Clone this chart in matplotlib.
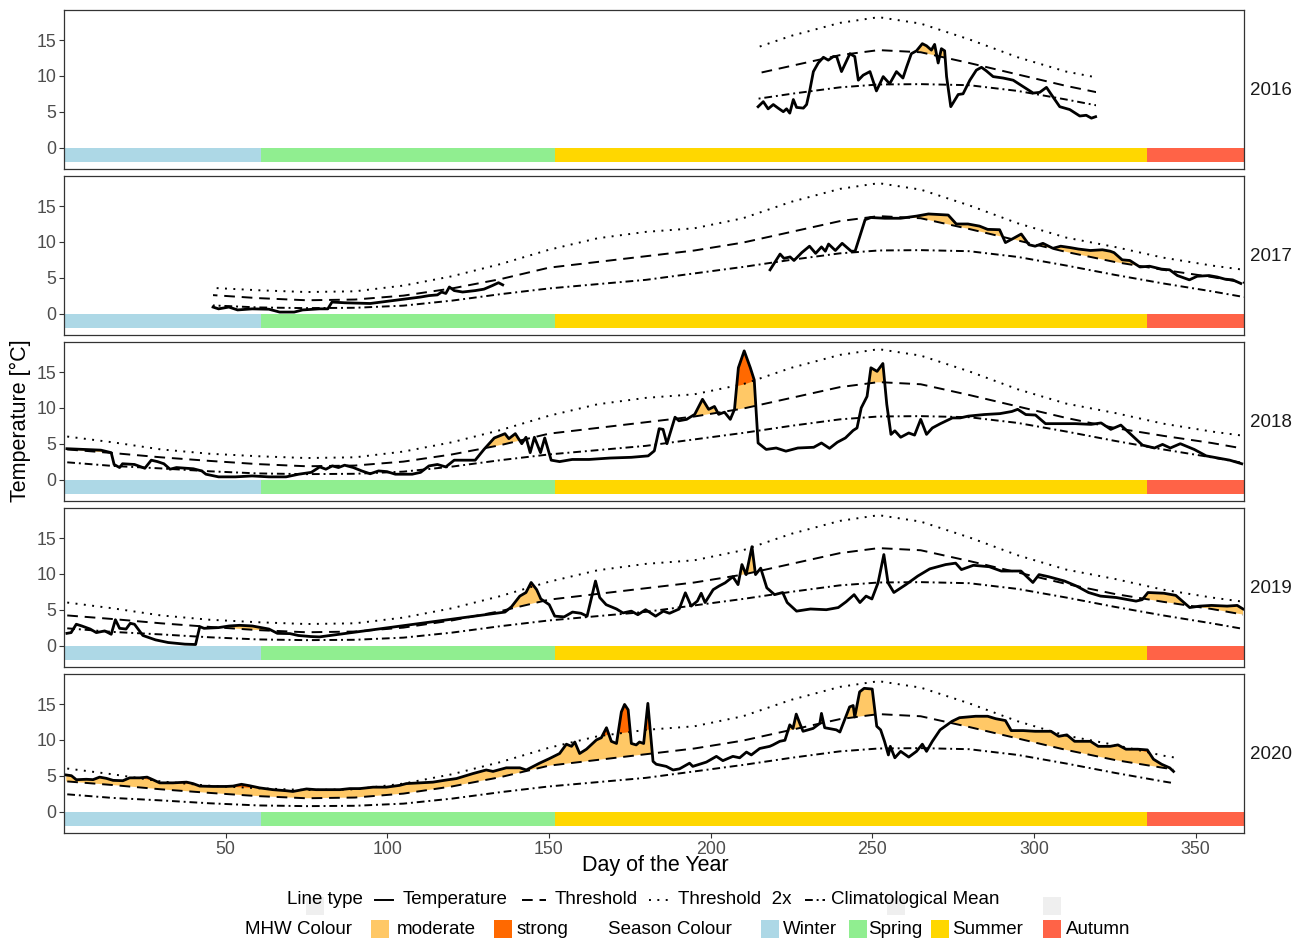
import numpy as np
import matplotlib

matplotlib.use("Agg")
import matplotlib.pyplot as plt
from matplotlib.lines import Line2D
from matplotlib.patches import Rectangle

plt.rcParams["font.family"] = ["Liberation Sans", "DejaVu Sans"]

# %% Climatology (same seasonal curves every year)

clim_days = [1, 15, 30, 45, 60, 75, 90, 105, 120, 135, 150, 165, 180, 195,
             210, 225, 240, 252, 265, 280, 295, 310, 325, 340, 355, 365]
clim_mean = [2.4, 1.9, 1.55, 1.15, 0.85, 0.75, 0.8, 1.1, 1.8, 2.7, 3.5, 4.1, 4.7, 5.6,
             6.5, 7.5, 8.4, 8.8, 8.85, 8.7, 7.9, 6.7, 5.4, 4.2, 3.1, 2.3]
threshold = [4.2, 3.7, 3.1, 2.6, 2.15, 1.85, 1.95, 2.5, 3.5, 4.8, 6.4, 7.2, 8.0, 8.8,
             9.9, 11.4, 12.9, 13.6, 13.3, 11.8, 10.2, 8.6, 7.2, 6.1, 5.1, 4.3]
threshold_2x = [6.0, 5.2, 4.2, 3.6, 3.25, 3.0, 3.1, 3.9, 5.2, 6.9, 8.9, 10.5, 11.4, 11.9,
                13.3, 15.6, 17.4, 18.2, 17.3, 15.1, 12.6, 10.6, 9.3, 7.8, 6.7, 6.1]

# %% Temperature per year

days_2016 = [214.7, 216.3, 217.8, 219.4, 220.9, 222.5, 223.5, 224.5, 225.6, 226.6, 228.7,
             229.7, 230.7, 231.8, 233.3, 234.9, 236.4, 238.0, 239.0, 240.5, 243.1, 244.6,
             245.7, 247.2, 249.3, 251.3, 253.4, 255.4, 257.5, 259.5, 260.6, 262.1, 263.7,
             265.5, 266.8, 268.3, 269.3, 270.4, 271.4, 272.4, 273.0, 274.3, 276.6, 278.1,
             280.2, 282.2, 283.8, 285.3, 287.4, 290.5, 293.6, 296.7, 299.8, 301.8, 303.9,
             305.4, 308.0, 311.1, 314.2, 316.2, 317.8, 319.1]
temp_2016 = [5.7, 6.4, 5.4, 6.0, 5.5, 5.0, 5.4, 4.8, 6.7, 5.6, 5.5,
             6.0, 8.0, 10.6, 11.8, 12.6, 12.2, 12.7, 12.7, 10.6, 13.1, 12.7,
             9.4, 10.1, 10.6, 7.9, 9.9, 8.9, 10.6, 9.7, 11.2, 13.1, 13.5,
             14.5, 14.2, 13.6, 14.4, 11.8, 13.8, 13.5, 9.9, 5.7, 7.4, 7.5,
             9.4, 10.8, 11.2, 10.7, 9.9, 9.7, 9.4, 8.5, 7.6, 7.7, 8.4,
             7.4, 5.7, 5.3, 4.4, 4.5, 4.1, 4.3]

days_2017 = [46.1, 47.8, 51.0, 53.7, 58.2, 63.4, 66.7, 71.2, 73.8, 79.0, 81.6, 82.9,
             86.8, 94.7, 102.5, 110.3, 112.9, 115.5, 116.8, 118.1, 119.2, 120.7, 123.3,
             127.2, 129.9, 132.5, 134.4, 135.7, np.nan,
             218.4, 221.5, 222.7, 224.6, 225.8, 228.2, 230.6, 232.5, 234.3, 235.5, 236.5,
             238.6, 240.7, 243.5, 244.7, 247.8, 249.6, 253.9, 258.8, 263.7, 267.4, 273.5,
             276.0, 279.6, 283.2, 285.7, 289.4, 291.2, 293.7, 296.1, 298.5, 300.4, 302.8,
             305.9, 308.3, 311.3, 313.8, 317.5, 321.2, 323.6, 324.8, 327.3, 329.7, 332.8,
             335.8, 339.5, 342.0, 344.4, 348.1, 350.5, 354.2, 356.7, 359.1, 361.5, 364.0]
temp_2017 = [0.9, 0.65, 0.9, 0.5, 0.65, 0.6, 0.2, 0.2, 0.5, 0.65, 0.65, 1.6,
             1.5, 1.4, 1.85, 2.3, 2.5, 2.6, 3.0, 2.8, 3.7, 3.2, 3.0,
             3.2, 3.4, 3.9, 4.3, 4.0, np.nan,
             6.1, 8.3, 7.7, 7.9, 7.4, 8.5, 9.4, 8.4, 9.3, 8.7, 9.7,
             8.8, 9.8, 8.7, 8.7, 13.1, 13.4, 13.3, 13.3, 13.6, 13.9, 13.75,
             12.5, 12.5, 12.2, 11.75, 11.7, 9.9, 10.5, 11.1, 9.6, 9.4, 9.8,
             9.1, 9.4, 9.2, 9.0, 8.8, 8.9, 8.7, 8.5, 7.5, 7.4, 6.5,
             6.6, 6.2, 6.1, 5.3, 4.7, 5.2, 5.3, 5.1, 4.8, 4.7, 4.2]

days_2018 = [0.9, 6.2, 11.4, 14.6, 15.5, 17.2, 18.1, 21.8, 25.0, 27.0, 28.9, 30.9, 32.8,
             34.8, 40.0, 42.6, 43.9, 47.8, 53.0, 58.2, 63.4, 68.7, 72.6, 76.5, 79.1, 81.0,
             83.0, 84.9, 86.8, 89.5, 92.1, 94.7, 97.3, 99.9, 102.5, 107.7, 110.3, 112.9,
             115.5, 118.1, 120.7, 123.3, 127.2, 129.9, 133.1, 136.4, 137.6, 139.6, 141.6,
             142.9, 144.2, 145.5, 147.4, 148.7, 150.7, 153.3, 157.2, 162.4, 168.9, 175.5,
             180.7, 182.6, 184.1, 185.3, 186.5, 189.0, 190.2, 192.6, 195.1, 197.5, 199.4,
             201.2, 202.5, 204.3, 206.1, 207.4, 208.6, 210.4, 212.3, 213.5, 214.7, 217.2,
             220.3, 223.3, 227.0, 231.9, 234.3, 236.8, 239.2, 241.7, 244.1, 245.3, 246.6,
             248.4, 249.6, 251.5, 253.3, 254.5, 255.8, 257.0, 258.8, 261.3, 263.1, 265.0,
             266.8, 268.6, 271.1, 274.8, 277.2, 279.7, 284.6, 289.5, 293.2, 295.0, 297.5,
             300.5, 303.6, 307.9, 312.8, 317.7, 320.8, 323.8, 326.9, 330.0, 333.6, 337.3,
             339.8, 342.2, 345.3, 349.6, 353.3, 357.0, 360.6, 364.3]
temp_2018 = [4.3, 4.2, 4.1, 3.75, 2.1, 1.67, 2.2, 2.1, 1.57, 2.7, 2.5, 2.2, 1.44,
             1.67, 1.5, 1.2, 0.74, 0.37, 0.37, 0.5, 0.37, 0.37, 0.74, 1.0, 1.76, 1.44,
             1.9, 1.67, 2.0, 1.67, 1.2, 0.8, 1.2, 1.1, 0.74, 0.74, 1.0, 1.9,
             2.1, 1.76, 2.7, 2.7, 2.7, 4.2, 5.8, 6.4, 5.7, 6.4, 5.0,
             5.9, 3.75, 5.9, 3.75, 5.8, 2.7, 2.5, 2.8, 2.8, 3.0, 3.1,
             3.3, 4.0, 7.1, 7.0, 5.0, 8.7, 8.2, 8.4, 9.1, 11.2, 9.8,
             10.2, 9.1, 9.4, 8.4, 9.8, 15.6, 17.96, 15.6, 13.9, 5.1, 4.2,
             4.4, 3.96, 4.4, 4.5, 5.1, 4.35, 5.2, 5.8, 6.85, 7.2, 10.0,
             11.6, 15.6, 15.1, 16.2, 10.5, 6.3, 6.8, 5.9, 6.5, 6.2, 8.4,
             6.3, 7.2, 7.8, 8.6, 8.6, 8.85, 9.07, 9.2, 9.5, 9.8, 9.07,
             9.0, 7.8, 7.8, 7.8, 7.7, 7.9, 7.0, 7.6, 6.3, 4.8, 4.4,
             4.9, 4.4, 5.0, 4.2, 3.3, 3.0, 2.7, 2.2]

days_2019 = [0.9, 2.2, 3.8, 5.5, 8.1, 10.0, 12.6, 14.6, 15.9, 17.2, 19.2, 20.5, 21.8,
             24.4, 28.3, 32.2, 37.4, 40.7, 42.0, 43.3, 47.8, 51.1, 54.3, 58.2, 63.4, 66.0,
             69.9, 72.5, 76.4, 79.0, 136.4, 138.4, 141.0, 142.9, 144.5, 146.2, 147.5,
             150.1, 151.8, 154.7, 157.3, 159.9, 161.8, 164.4, 165.7, 167.7, 170.9, 172.9,
             175.5, 177.5, 179.9, 183.0, 185.4, 187.3, 190.3, 192.2, 194.0, 195.9, 197.1,
             198.3, 200.8, 202.6, 204.5, 206.9, 208.5, 209.7, 211.0, 212.8, 213.9, 215.5,
             217.4, 219.8, 222.3, 223.7, 226.6, 230.9, 235.8, 239.5, 241.9, 244.4, 246.2,
             248.1, 249.9, 251.8, 253.6, 254.9, 256.7, 260.4, 264.1, 267.8, 272.7, 275.8,
             277.6, 281.3, 286.2, 289.9, 296.0, 299.7, 301.6, 304.6, 309.5, 313.2, 316.9,
             320.6, 325.5, 331.6, 333.5, 335.3, 340.2, 343.9, 348.2, 351.3, 354.9, 359.8,
             362.9, 364.7]
temp_2019 = [1.7, 1.8, 2.97, 2.73, 2.3, 1.8, 2.04, 1.57, 3.6, 2.4, 2.3, 3.1, 2.97,
             1.4, 0.79, 0.42, 0.19, 0.14, 2.64, 2.4, 2.5, 2.73, 2.82, 2.73, 2.3, 1.7,
             1.66, 1.4, 1.25, 1.2, 4.67, 5.4, 6.9, 7.4, 8.8, 7.8, 6.5,
             5.7, 4.1, 4.0, 4.67, 4.5, 4.1, 9.0, 6.7, 5.7, 5.1, 4.55,
             4.8, 4.3, 5.0, 4.1, 4.8, 4.5, 5.1, 7.36, 5.5, 6.2, 7.3,
             6.0, 7.8, 8.3, 8.75, 9.6, 8.5, 11.3, 9.9, 13.8, 9.9, 10.8,
             8.05, 7.1, 7.4, 6.0, 4.8, 5.1, 5.0, 5.3, 6.1, 7.1, 6.0,
             6.9, 6.5, 8.75, 12.7, 8.75, 7.4, 8.5, 9.7, 10.7, 11.3, 11.5,
             10.6, 11.2, 11.0, 10.4, 10.4, 8.8, 9.9, 9.6, 9.0, 8.3, 7.4,
             6.9, 6.7, 6.2, 6.4, 7.4, 7.3, 7.0, 5.3, 5.5, 5.6, 5.5,
             5.6, 5.1]

days_2020 = [0.7, 2.3, 3.8, 6.9, 9.0, 11.0, 13.1, 15.2, 18.2, 20.3, 23.4, 25.7, 27.5,
             29.6, 33.7, 37.9, 39.9, 42.0, 46.1, 50.2, 52.3, 54.9, 57.4, 60.5, 64.6, 68.8,
             70.8, 75.0, 78.0, 81.2, 85.3, 88.4, 91.5, 95.6, 99.7, 103.8, 105.9, 110.0,
             114.1, 118.3, 121.4, 126.5, 130.6, 132.7, 136.8, 141.0, 143.0, 147.1, 150.2,
             153.3, 155.4, 157.0, 158.0, 159.5, 161.6, 164.7, 166.2, 167.8, 169.3, 170.9,
             172.4, 173.4, 174.5, 175.5, 177.0, 178.0, 179.3, 180.6, 182.2, 183.2, 186.3,
             188.4, 190.4, 193.5, 194.5, 198.7, 201.8, 203.8, 206.9, 209.0, 211.1, 212.6,
             215.2, 218.3, 219.3, 221.4, 223.0, 224.5, 225.5, 226.5, 227.6, 228.6, 231.7,
             233.8, 234.3, 235.3, 238.9, 240.0, 243.0, 244.1, 244.6, 246.1, 247.5, 250.0,
             251.4, 252.6, 253.8, 255.0, 255.6, 257.0, 258.8, 261.3, 263.7, 265.5, 266.8,
             268.6, 271.0, 274.7, 277.0, 282.0, 285.7, 288.2, 291.2, 293.0, 296.7, 300.4,
             305.3, 307.7, 310.2, 312.6, 317.5, 319.9, 323.6, 326.0, 328.5, 332.1, 335.1,
             337.0, 339.5, 342.0, 343.2]
temp_2020 = [5.1, 5.0, 4.44, 4.5, 4.45, 4.8, 4.63, 4.35, 4.3, 4.7, 4.7, 4.8, 4.44,
             4.0, 4.0, 4.1, 3.9, 3.55, 3.5, 3.5, 3.55, 3.8, 3.6, 3.3, 3.05, 2.9,
             2.8, 3.15, 3.05, 3.05, 3.05, 3.2, 3.2, 3.4, 3.4, 3.65, 3.9, 4.0,
             4.1, 4.4, 4.6, 5.3, 5.8, 5.6, 6.1, 6.1, 5.8, 6.75, 7.4,
             8.1, 9.4, 9.1, 9.7, 8.1, 8.7, 10.0, 10.3, 11.7, 9.8, 9.5,
             13.9, 14.95, 14.2, 9.5, 9.3, 9.7, 9.5, 15.1, 7.0, 6.6, 6.3,
             5.8, 5.96, 6.75, 6.3, 6.9, 7.7, 7.1, 7.7, 7.5, 8.3, 7.9,
             8.8, 9.1, 9.3, 9.8, 9.95, 12.1, 11.6, 13.6, 12.3, 11.2, 11.6,
             12.3, 13.7, 11.7, 11.4, 11.1, 14.6, 14.8, 13.2, 16.7, 17.2, 17.1,
             11.9, 11.4, 9.8, 7.9, 9.1, 7.5, 8.4, 7.6, 8.4, 9.4, 8.4,
             9.8, 11.4, 12.6, 13.1, 13.3, 13.3, 12.96, 12.7, 11.3, 11.3, 11.2,
             11.2, 10.5, 10.7, 9.8, 9.8, 9.1, 9.1, 9.3, 8.7, 8.7, 8.6,
             7.3, 6.6, 6.1, 5.6]

years = [2016, 2017, 2018, 2019, 2020]
year_days = [days_2016, days_2017, days_2018, days_2019, days_2020]
year_temps = [temp_2016, temp_2017, temp_2018, temp_2019, temp_2020]
# first/last day each year has a climatology drawn for
year_span = [(214.7, 319.1), (46.1, 365.0), (0.9, 364.5), (0.9, 364.7), (0.7, 343.5)]

# detected MHW events (start, end day) -- only these get the flame fill
events_2016 = [(261, 274)]
events_2017 = [(245, 291), (292, 298), (302, 331), (347, 364)]
events_2018 = [(0, 15), (131, 143), (196, 203), (207, 215), (248, 256)]
events_2019 = [(41, 66), (137, 150), (209, 216), (333, 365)]
events_2020 = [(0, 184), (222, 252), (272, 346)]
year_events = [events_2016, events_2017, events_2018, events_2019, events_2020]

season_names = ["Winter", "Spring", "Summer", "Autumn"]
season_start = [0, 61, 152, 335]
season_end = [61, 152, 335, 365]
season_colors = ["#ADD8E6", "#90EE90", "#FFD700", "#FF6347"]
mhw_names = ["moderate", "strong"]
mhw_colors = ["#FFC866", "#FF6900"]

# %% Styles

DASHED = (0, (5.5, 3.5))
DOTTED = (0, (1.0, 3.3))
DOTDASH = (0, (4.0, 2.0, 1.0, 2.0))
TICK_GREY = "#4D4D4D"

W, H = 1306, 940
fig = plt.figure(figsize=(W / 100, H / 100), dpi=100)


def fx(px):
    return px / W


def fy(py):
    return 1 - py / H


panel_tops = [10, 176, 342, 508, 674]
panel_h = 159

clim_days_a = np.array(clim_days, dtype=float)
for i, year in enumerate(years):
    top = panel_tops[i]
    ax = fig.add_axes([fx(64), fy(top + panel_h), 1180 / W, panel_h / H])
    ax.set_xlim(0, 365)
    ax.set_ylim(-3.0, 19.2)

    for s0, s1, col in zip(season_start, season_end, season_colors):
        ax.bar(s0, 2, width=s1 - s0, bottom=-2, align="edge", color=col, lw=0, zorder=1)

    d = np.array(year_days[i], dtype=float)
    t = np.array(year_temps[i], dtype=float)
    thr = np.interp(d, clim_days_a, threshold)
    thr2 = np.interp(d, clim_days_a, threshold_2x)
    in_event = np.zeros(len(d), dtype=bool)
    for e0, e1 in year_events[i]:
        in_event |= (d >= e0) & (d <= e1)
    with np.errstate(invalid="ignore"):
        ax.fill_between(d, thr, t, where=in_event & (t > thr), interpolate=True,
                        color=mhw_colors[0], lw=0, zorder=2)
        ax.fill_between(d, thr2, t, where=in_event & (t > thr2), interpolate=True,
                        color=mhw_colors[1], lw=0, zorder=2.1)

    x0, x1 = year_span[i]
    for vals, ls in ((threshold_2x, DOTTED), (threshold, DASHED), (clim_mean, DOTDASH)):
        (line,) = ax.plot(clim_days, vals, color="black", lw=1.4, ls=ls, zorder=3)
        clip = Rectangle((x0, -50), x1 - x0, 100, transform=ax.transData)
        line.set_clip_path(clip)

    ax.plot(d, t, color="black", lw=2.0, zorder=4, solid_joinstyle="round")

    ax.set_yticks([0, 5, 10, 15])
    ax.set_xticks([50, 100, 150, 200, 250, 300, 350])
    ax.tick_params(axis="both", colors="#333333", labelcolor=TICK_GREY,
                   labelsize=12.8, length=3.5, width=0.8, pad=2)
    if i < len(years) - 1:
        ax.tick_params(axis="x", bottom=False, labelbottom=False)
    for sp in ax.spines.values():
        sp.set_color("#333333")
        sp.set_linewidth(0.9)

    fig.text(fx(1271), fy(top + panel_h / 2 + 1), str(year), ha="center", va="center",
             fontsize=13.5, color="#1A1A1A")

fig.text(fx(655), fy(866), "Day of the Year", ha="center", va="center", fontsize=15.5)
fig.text(fx(20), fy(421), "Temperature [°C]", ha="center", va="center",
         rotation=90, fontsize=15.5)

# %% Legend (two rows under the panels)

for gx in (306, 887, 1043):
    fig.add_artist(Rectangle((fx(gx), fy(915)), 18 / W, 18 / H,
                             transform=fig.transFigure, color="#EFEFEF", lw=0, zorder=0))

LEG = 13.5
row1, row2 = 900, 929
fig.text(fx(287), fy(row1), "Line type", ha="left", va="center", fontsize=LEG)
for (k0, k1), ls, lab, lx in (((375, 393), "-", "Temperature", 403),
                              ((522, 546), DASHED, "Threshold", 555),
                              ((649, 668), DOTTED, "Threshold  2x", 678),
                              ((805, 825), DOTDASH, "Climatological Mean", 831)):
    fig.add_artist(Line2D([fx(k0), fx(k1)], [fy(row1), fy(row1)], color="black",
                          lw=1.4, ls=ls, transform=fig.transFigure))
    fig.text(fx(lx), fy(row1), lab, ha="left", va="center", fontsize=LEG)

fig.text(fx(245), fy(row2), "MHW Colour", ha="left", va="center", fontsize=LEG)
fig.text(fx(608), fy(row2), "Season Colour", ha="left", va="center", fontsize=LEG)
swatches = list(zip([371, 494], mhw_colors, mhw_names, [397, 517])) + \
    list(zip([761, 849, 931, 1043], season_colors, season_names, [783, 868, 952, 1066]))
for sx, col, lab, lx in swatches:
    fig.add_artist(Rectangle((fx(sx), fy(938)), 18 / W, 18 / H,
                             transform=fig.transFigure, color=col, lw=0))
    fig.text(fx(lx), fy(row2), lab, ha="left", va="center", fontsize=LEG)

fig.savefig("out.png", dpi=100)
